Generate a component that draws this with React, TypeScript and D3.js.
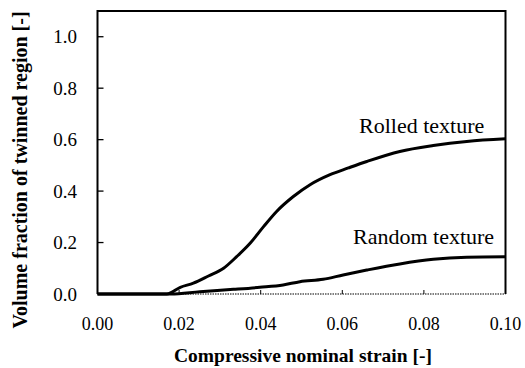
import React from "react";
import * as d3 from "d3";

const xTicks = [0, 0.02, 0.04, 0.06, 0.08, 0.1];
const yTicks = [0, 0.2, 0.4, 0.6, 0.8, 1.0];

const rolledStrain = [0, 0.017, 0.0203, 0.0235, 0.0272, 0.0309, 0.0341, 0.0374, 0.0407, 0.0439, 0.048, 0.0521, 0.057, 0.0615, 0.066, 0.0741, 0.0823, 0.0905, 0.1];
const rolledFraction = [0, 0, 0.026, 0.042, 0.07, 0.1, 0.145, 0.197, 0.262, 0.321, 0.379, 0.425, 0.464, 0.49, 0.515, 0.554, 0.577, 0.593, 0.603];

const randomStrain = [0, 0.018, 0.0251, 0.0333, 0.0398, 0.0455, 0.0496, 0.0553, 0.0602, 0.066, 0.0741, 0.0823, 0.0905, 0.1];
const randomFraction = [0, 0, 0.009, 0.018, 0.026, 0.035, 0.048, 0.057, 0.074, 0.093, 0.117, 0.135, 0.143, 0.145];

const W = 525;
const H = 368;
const font = "Liberation Serif";

export default function App() {
  const x = d3.scaleLinear().domain([0, 0.1]).range([97.5, 505.5]);
  const y = d3.scaleLinear().domain([0, 1.1]).range([294, 11]);

  const line = d3
    .line<[number, number]>()
    .x((d) => x(d[0]))
    .y((d) => y(d[1]))
    .curve(d3.curveMonotoneX);

  const rolled = rolledStrain.map((s, i) => [s, rolledFraction[i]] as [number, number]);
  const random = randomStrain.map((s, i) => [s, randomFraction[i]] as [number, number]);

  const [x0, x1] = x.range();
  const [y0, y1] = y.range();

  return (
    <svg width={W} height={H} style={{ position: "absolute", left: 0, top: 0, background: "#fff" }}>
      {/* bottom axis, grey and broken as in the scan */}
      <line x1={x0} x2={x1} y1={y0} y2={y0} stroke="#555" strokeWidth={1.5} strokeDasharray="1.5,1" />
      {/* frame */}
      <path d={`M${x0},${y0}V${y1}H${x1}V${y0}`} fill="none" stroke="#000" strokeWidth={2} />

      {yTicks.slice(1).map((t) => (
        <line key={"yt" + t} x1={x0} x2={x0 + 6} y1={y(t)} y2={y(t)} stroke="#000" strokeWidth={1.3} />
      ))}
      {xTicks.slice(1, -1).map((t) => (
        <line key={"xt" + t} x1={x(t)} x2={x(t)} y1={y0} y2={y0 - 4} stroke="#000" strokeWidth={1} />
      ))}

      {yTicks.map((t) => (
        <text key={"yl" + t} x={77} y={y(t)} dy="0.35em" textAnchor="end" fontSize={19} fontFamily={font}>
          {t.toFixed(1)}
        </text>
      ))}
      {xTicks.map((t) => (
        <text key={"xl" + t} x={x(t)} y={330} textAnchor="middle" fontSize={18} fontFamily={font}>
          {t.toFixed(2)}
        </text>
      ))}

      <path d={line(rolled) ?? ""} fill="none" stroke="#000" strokeWidth={3} />
      <path d={line(random) ?? ""} fill="none" stroke="#000" strokeWidth={3} />

      <text x={359} y={133} fontSize={22} fontFamily={font}>Rolled texture</text>
      <text x={353} y={244} fontSize={22} fontFamily={font}>Random texture</text>

      <text x={303} y={362} textAnchor="middle" fontSize={19.5} fontWeight="bold" fontFamily={font}>
        Compressive nominal strain [-]
      </text>
      <text
        transform={`translate(27,${170}) rotate(-90)`}
        textAnchor="middle"
        fontSize={20}
        fontWeight="bold"
        fontFamily={font}
      >
        Volume fraction of twinned region [-]
      </text>
    </svg>
  );
}
